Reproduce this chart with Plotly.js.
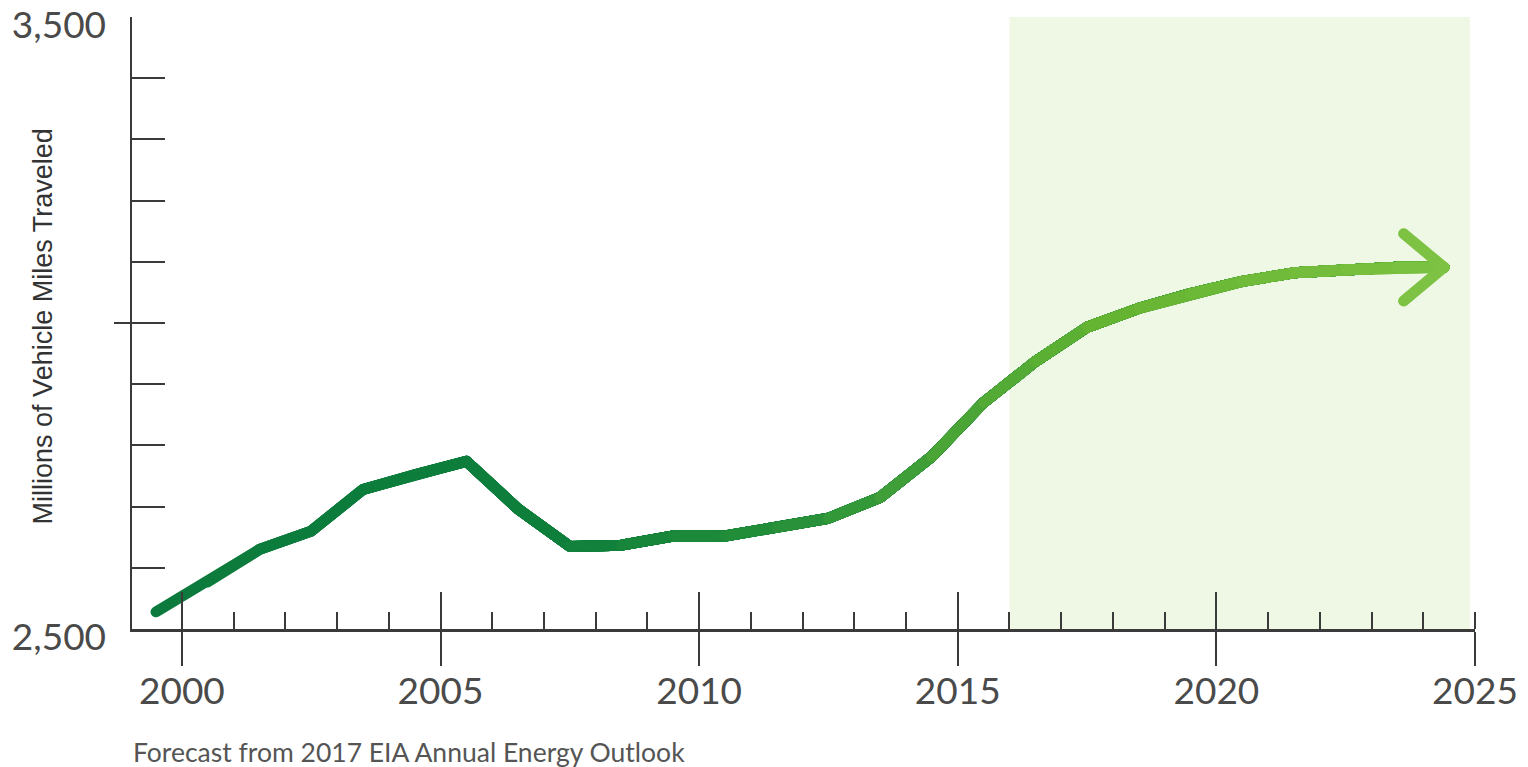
<!DOCTYPE html>
<html>
<head>
<meta charset="utf-8">
<script src="https://cdn.plot.ly/plotly-3.0.1.min.js"></script>
<style>
  html, body { margin: 0; padding: 0; background: #ffffff; }
  #chart { width: 1528px; height: 767px; }
  .scatterlayer .js-line { stroke-linecap: round; stroke-linejoin: round; }
</style>
</head>
<body>
<div id="chart"></div>
<script>
// ---- data ----
const years = [1999.5, 2000.5, 2001.5, 2002.5, 2003.5, 2004.5, 2005.5, 2006.5, 2007.5, 2008.5,
               2009.5, 2010.5, 2011.5, 2012.5, 2013.5, 2014.5, 2015.5, 2016.5, 2017.5, 2018.5,
               2019.5, 2020.5, 2021.5, 2022.5, 2023.5, 2024.4];
const vmt = [2528, 2577, 2630, 2660, 2728, 2752, 2774, 2696, 2635, 2637,
             2652, 2652, 2666, 2681, 2715, 2782, 2870, 2937, 2993, 3024,
             3048, 3068, 3082, 3087, 3091, 3091];
const forecastStart = 2016;
const forecastEnd = 2024.9;
const yTickVals = [2500, 2600, 2700, 2800, 2900, 3000, 3100, 3200, 3300, 3400, 3500];
const yTickText = ['2,500', '', '', '', '', '', '', '', '', '', '3,500'];
const xTickVals = [2000, 2005, 2010, 2015, 2020, 2025];
const xTickText = ['2000', '2005', '2010', '2015', '2020', '2025'];
const yTitle = 'Millions of Vehicle Miles Traveled';
const caption = 'Forecast from 2017 EIA Annual Energy Outlook';

// ---- styling ----
const colorStops = [
  [1999.5, [11, 122, 60]],
  [2007.5, [14, 127, 59]],
  [2012.0, [40, 145, 57]],
  [2015.0, [74, 165, 54]],
  [2018.0, [100, 180, 50]],
  [2024.4, [125, 194, 66]]
];
function colorAt(x) {
  for (let i = 0; i < colorStops.length - 1; i++) {
    const [x0, c0] = colorStops[i], [x1, c1] = colorStops[i + 1];
    if (x <= x1) {
      const t = Math.max(0, (x - x0) / (x1 - x0));
      const c = c0.map((v, k) => Math.round(v + (c1[k] - v) * t));
      return 'rgb(' + c.join(',') + ')';
    }
  }
  const c = colorStops[colorStops.length - 1][1];
  return 'rgb(' + c.join(',') + ')';
}
const lineW = 11;
const axisColor = '#3a3a3a';
const textColor = '#4a4a4a';

const traces = [];
// gradient line: each trace starts at point k and runs to the end; later ones overlay
for (let k = 0; k < years.length - 1; k++) {
  traces.push({
    type: 'scatter', mode: 'lines',
    x: years.slice(k), y: vmt.slice(k),
    line: { color: colorAt((years[k] + years[k + 1]) / 2), width: lineW },
    hoverinfo: 'skip', showlegend: false, xaxis: 'x', yaxis: 'y'
  });
}
// chevron arrowhead at the last point
const n = years.length - 1;
const armDx = 0.78, armDy = 55;
traces.push({
  type: 'scatter', mode: 'lines',
  x: [years[n] - armDx, years[n], years[n] - armDx],
  y: [vmt[n] + armDy, vmt[n], vmt[n] - armDy],
  line: { color: colorAt(years[n]), width: lineW },
  hoverinfo: 'skip', showlegend: false, xaxis: 'x', yaxis: 'y'
});
// dummy trace to activate overlay axes
traces.push({ type: 'scatter', mode: 'none', x: [2010], y: [3000], xaxis: 'x2', yaxis: 'y2',
  hoverinfo: 'skip', showlegend: false });

const xRange = [1999.035, 2025];
const yRange = [2500, 3500];

const layout = {
  width: 1528, height: 767,
  margin: { l: 132, r: 53, t: 17, b: 138 },
  paper_bgcolor: '#ffffff', plot_bgcolor: 'rgba(0,0,0,0)',
  showlegend: false,
  xaxis: {
    range: xRange, showgrid: false, zeroline: false,
    showline: true, linecolor: axisColor, linewidth: 2.5,
    tickmode: 'array', tickvals: xTickVals, ticktext: xTickText,
    ticks: 'outside', ticklen: 34, tickwidth: 2, tickcolor: axisColor,
    minor: { ticks: 'inside', dtick: 1, tick0: 2000, ticklen: 17, tickwidth: 2, tickcolor: axisColor, showgrid: false },
    tickfont: { family: 'Lato, "Open Sans", sans-serif', size: 37, color: textColor },
    ticklabelstandoff: -6,
    fixedrange: true
  },
  xaxis2: {
    overlaying: 'x', range: xRange, showgrid: false, zeroline: false, showline: false,
    tickmode: 'array', tickvals: xTickVals, showticklabels: false,
    ticks: 'inside', ticklen: 37, tickwidth: 2, tickcolor: axisColor
  },
  yaxis: {
    range: yRange, showgrid: false, zeroline: false,
    showline: true, linecolor: axisColor, linewidth: 2.5,
    tickmode: 'array', tickvals: yTickVals, ticktext: yTickText,
    ticks: 'inside', ticklen: 33, tickwidth: 2, tickcolor: axisColor,
    tickfont: { family: 'Lato, "Open Sans", sans-serif', size: 37, color: textColor },
    ticklabelstandoff: 16,
    ticklabelshift: 8,
    ticklabeloverflow: 'allow',
    fixedrange: true
  },
  yaxis2: {
    overlaying: 'y', range: yRange, showgrid: false, zeroline: false, showline: false,
    tickmode: 'array', tickvals: [3000], showticklabels: false,
    ticks: 'outside', ticklen: 17, tickwidth: 2, tickcolor: axisColor
  },
  shapes: [{
    type: 'rect', xref: 'x', yref: 'y', layer: 'below',
    x0: forecastStart, x1: forecastEnd, y0: yRange[0], y1: yRange[1],
    fillcolor: '#eff7e5', line: { width: 0 }
  }],
  annotations: [
    {
      text: yTitle, xref: 'paper', yref: 'paper', x: -0.066, y: 0.495,
      textangle: -90, showarrow: false, xanchor: 'center', yanchor: 'middle',
      font: { family: '"Liberation Sans", Arial, sans-serif', size: 27, color: '#333333' }
    },
    {
      text: caption, xref: 'paper', yref: 'paper', x: -0.001, y: -0.201,
      showarrow: false, xanchor: 'left', yanchor: 'middle',
      font: { family: 'Lato, "Open Sans", sans-serif', size: 26.5, color: '#555555' }
    }
  ]
};

Plotly.newPlot('chart', traces, layout, { displayModeBar: false, staticPlot: true });
</script>
</body>
</html>
